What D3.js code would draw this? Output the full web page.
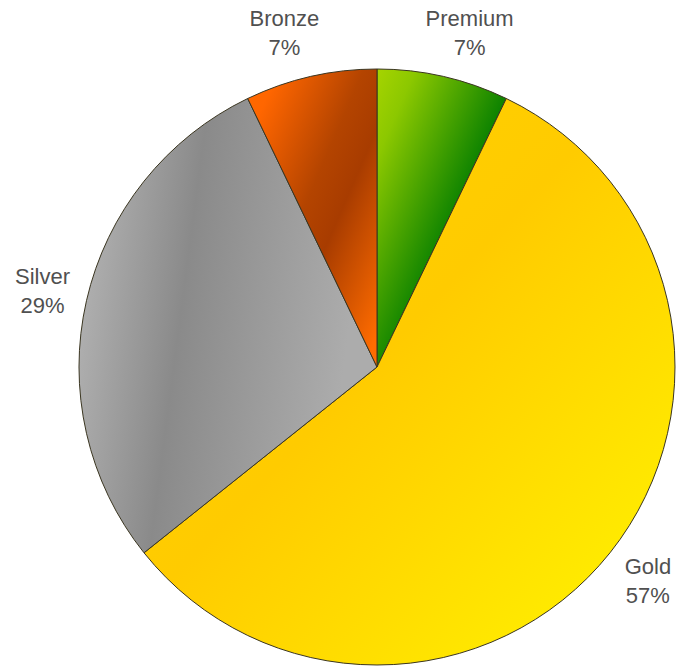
<!DOCTYPE html>
<html>
<head>
<meta charset="utf-8">
<script src="https://cdn.jsdelivr.net/npm/d3@7"></script>
<style>
  html, body { margin: 0; padding: 0; background: #fff; }
  svg { display: block; }
</style>
</head>
<body>
<svg id="chart" width="677" height="669"></svg>
<script>
const categories = ["Premium", "Gold", "Silver", "Bronze"];
const values = [1, 8, 4, 1];
const gradientStops = {
  Premium: [[0, "#a6d400"], [0.15, "#8cc800"], [0.55, "#0c8200"], [1, "#0a7400"]],
  Gold:    [[0, "#ffd400"], [0.45, "#ffcb00"], [1, "#fff600"]],
  Silver:  [[0, "#b8b8b8"], [0.4, "#8a8a8a"], [0.95, "#acacac"]],
  Bronze:  [[0, "#ff6a00"], [0.12, "#ff6600"], [0.45, "#b44400"], [0.6, "#a83c00"], [0.95, "#ff6c00"]]
};
const gradientDir = {
  Premium: [0, 0, 1, 1],
  Gold: [0, 0, 1, 1],
  Silver: [0, 0.1, 1, 0.3],
  Bronze: [0, 0, 1, 1]
};

const svg = d3.select("#chart");
const cx = 377, cy = 367, R = 298;
const total = d3.sum(values);
const data = categories.map((c, i) => ({ name: c, value: values[i] }));

const defs = svg.append("defs");
categories.forEach((c, i) => {
  const d = gradientDir[c];
  const g = defs.append("linearGradient")
    .attr("id", "grad" + i)
    .attr("x1", d[0]).attr("y1", d[1]).attr("x2", d[2]).attr("y2", d[3]);
  gradientStops[c].forEach(s => g.append("stop").attr("offset", s[0]).attr("stop-color", s[1]));
});

const pie = d3.pie().value(d => d.value).sort(null).startAngle(0).endAngle(2 * Math.PI);
const arcs = pie(data);
const arc = d3.arc().innerRadius(0).outerRadius(R);

const g = svg.append("g").attr("transform", `translate(${cx},${cy})`);
g.selectAll("path.slice").data(arcs).join("path")
  .attr("class", "slice")
  .attr("d", arc)
  .attr("fill", (d, i) => `url(#grad${i})`)
  .attr("stroke", "#3a3520")
  .attr("stroke-width", 1)
  .attr("stroke-linejoin", "round");

const labelR = 343;
const lab = g.selectAll("g.label").data(arcs).join("g").attr("class", "label")
  .attr("transform", d => {
    const a = (d.startAngle + d.endAngle) / 2;
    const s = Math.sin(a), c = Math.cos(a);
    const x = labelR * s + Math.sign(s) * 18 * Math.pow(c, 4);
    const y = -labelR * c;
    return `translate(${x},${y})`;
  });
lab.append("text")
  .attr("text-anchor", "middle")
  .attr("y", -7)
  .attr("font-family", "'Liberation Sans', Arial, sans-serif")
  .attr("font-size", 22)
  .attr("fill", "#505050")
  .text(d => d.data.name);
lab.append("text")
  .attr("text-anchor", "middle")
  .attr("y", 22)
  .attr("font-family", "'Liberation Sans', Arial, sans-serif")
  .attr("font-size", 22)
  .attr("fill", "#505050")
  .text(d => Math.round(d.data.value / total * 100) + "%");
</script>
</body>
</html>
